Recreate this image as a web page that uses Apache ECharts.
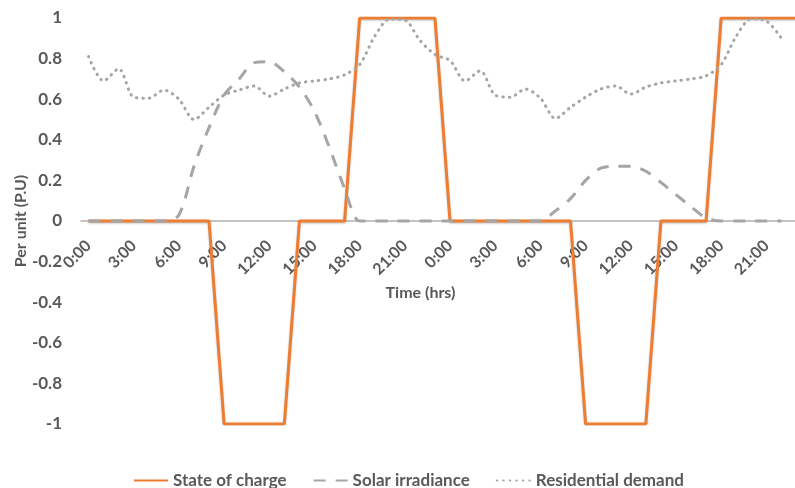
<!DOCTYPE html>
<html>
<head>
<meta charset="utf-8">
<script src="https://cdn.jsdelivr.net/npm/echarts@6/dist/echarts.min.js"></script>
<style>
html,body{margin:0;padding:0;background:#fff;}
#chart{width:795px;height:488px;}
</style>
</head>
<body>
<div id="chart"></div>
<script>
// Categories: hourly over two days
const hours = ["0:00","1:00","2:00","3:00","4:00","5:00","6:00","7:00","8:00","9:00","10:00","11:00",
  "12:00","13:00","14:00","15:00","16:00","17:00","18:00","19:00","20:00","21:00","22:00","23:00"];
const categories = hours.concat(hours);

const stateOfCharge = [0,0,0,0,0,0,0,0,0,-1,-1,-1,-1,-1,0,0,0,0,1,1,1,1,1,1,
  0,0,0,0,0,0,0,0,0,-1,-1,-1,-1,-1,0,0,0,0,1,1,1,1,1,1];

const solarIrradiance = [0,0,0,0,0,0,0.03,0.27,0.46,0.62,0.70,0.78,0.785,0.735,0.66,0.54,0.36,0.16,0,0,0,0,0,0,
  0,0,0,0,0,0,0,0.05,0.11,0.20,0.26,0.27,0.27,0.245,0.19,0.13,0.07,0.015,0,0,0,0,0];

const residentialDemand = [0.81,0.69,0.75,0.61,0.605,0.645,0.60,0.50,0.56,0.62,0.645,0.665,0.615,0.65,0.68,0.69,0.70,0.72,0.77,0.91,0.995,0.99,0.89,0.82,
  0.79,0.69,0.74,0.62,0.61,0.65,0.605,0.505,0.56,0.61,0.65,0.665,0.625,0.66,0.68,0.69,0.70,0.715,0.77,0.91,0.995,0.985,0.90];

const seriesNames = ["State of charge","Solar irradiance","Residential demand"];

const FONT = "Lato";
const TXT = "#595959";
const GRID_TOP = 18, GRID_BOTTOM = 64, H = 488;
const plotH = H - GRID_TOP - GRID_BOTTOM;
// x axis sits at value 0 (middle of -1..1)
const xAxisOffset = -plotH / 2;

const chart = echarts.init(document.getElementById('chart'), null, {renderer:'canvas'});
chart.setOption({
  animation:false,
  backgroundColor:'#ffffff',
  grid:{left:81, right:-9, top:GRID_TOP, bottom:GRID_BOTTOM, outerBoundsMode:'none', containLabel:false},
  legend:{
    data:seriesNames,
    left:128, top:467,
    itemWidth:34, itemHeight:14, itemGap:26,
    itemStyle:{opacity:0},
    textStyle:{fontFamily:FONT, fontWeight:'bold', fontSize:17, color:TXT}
  },
  xAxis:{
    type:'category',
    data:categories,
    boundaryGap:true,
    offset:xAxisOffset,
    name:'Time (hrs)',
    nameLocation:'middle',
    nameGap:56,
    nameTextStyle:{fontFamily:FONT, fontWeight:'bold', fontSize:16, color:TXT, padding:[0,44,0,0]},
    axisLine:{onZero:false, lineStyle:{color:'#B0B0B0', width:1.5}},
    axisTick:{show:false},
    axisLabel:{interval:2, rotate:45, margin:22, fontFamily:FONT, fontWeight:'bold', fontSize:16, color:TXT},
    splitLine:{show:false}
  },
  yAxis:{
    type:'value',
    min:-1, max:1, interval:0.2,
    name:'Per unit (P.U)',
    nameLocation:'middle',
    nameGap:52,
    nameMoveOverlap:false,
    nameTextStyle:{fontFamily:FONT, fontWeight:'bold', fontSize:16, color:TXT},
    axisLine:{show:false},
    axisTick:{show:false},
    splitLine:{show:false},
    axisLabel:{margin:19, fontFamily:FONT, fontWeight:'bold', fontSize:17, color:TXT,
      formatter:function(v){return String(Math.round(v*10)/10);}}
  },
  series:[
    {name:seriesNames[0], type:'line', data:stateOfCharge, symbol:'none',
      lineStyle:{color:'#ED7D31', width:3, shadowColor:'rgba(0,0,0,0.25)', shadowBlur:2, shadowOffsetY:1},
      itemStyle:{color:'#ED7D31'}},
    {name:seriesNames[1], type:'line', data:solarIrradiance, symbol:'none', smooth:0.3,
      lineStyle:{color:'#A5A5A5', width:3, type:[12,10], cap:'butt'},
      itemStyle:{color:'#A5A5A5'}},
    {name:seriesNames[2], type:'line', data:residentialDemand, symbol:'none', smooth:0.3,
      lineStyle:{color:'#A5A5A5', width:3, type:[0.5,6], cap:'round'},
      itemStyle:{color:'#A5A5A5'}}
  ]
});
</script>
</body>
</html>
